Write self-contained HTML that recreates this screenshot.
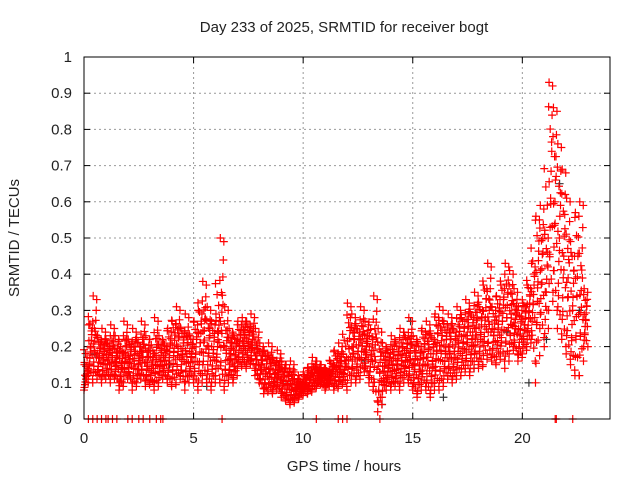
<!DOCTYPE html>
<html><head><meta charset="utf-8"><style>
body{margin:0;background:#fff}
svg text{font-family:"Liberation Sans",sans-serif;font-size:15px;fill:#222}
</style></head><body>
<svg id="chart" width="640" height="480" viewBox="0 0 640 480" xmlns="http://www.w3.org/2000/svg">
<rect width="640" height="480" fill="#fff"/>
<text x="344" y="32" text-anchor="middle">Day 233 of 2025, SRMTID for receiver bogt</text>
<text x="344" y="471" text-anchor="middle">GPS time / hours</text>
<text transform="translate(19,238) rotate(-90)" text-anchor="middle">SRMTID / TECUs</text>
<g id="grid"></g>
<g id="axes"></g>
<g id="marks"></g>
<rect x="84" y="57" width="526" height="362" fill="none" stroke="#000" stroke-width="1"/>
</svg>
<script>
const xTicks=[0,5,10,15,20];
const yTicks=[0,0.1,0.2,0.3,0.4,0.5,0.6,0.7,0.8,0.9,1];
const yTickLabels=["0","0.1","0.2","0.3","0.4","0.5","0.6","0.7","0.8","0.9","1"];
const timeStep=0.2;
const hiVals=[.14,.25,.33,.22,.24,.20,
.25,.22,.18,.26,.21,
.24,.20,.26,.22,.18,
.27,.22,.20,.24,.26,
.30,.24,.28,.22,.26,
.29,.37,.30,.26,.28,
.49,.30,.24,.22,.26,
.27,.26,.28,.24,.20,
.18,.20,.16,.18,.15,
.14,.15,.12,.10,.12,
.13,.16,.15,.14,.13,
.15,.18,.20,.17,.31,
.28,.24,.30,.26,.22,
.33,.24,.20,.18,.22,
.20,.24,.22,.27,.22,
.20,.24,.26,.22,.28,
.30,.26,.28,.24,.30,
.27,.32,.28,.34,.30,
.36,.42,.30,.33,.36,
.42,.40,.35,.30,.31,
.36,.42,.55,.58,.50,
.92,.85,.75,.68,.60,
.45,.56,.59,.35];
const loVals=[.08,.12,.10,.12,.10,.12,
.10,.12,.08,.10,.12,
.08,.10,.12,.09,.10,
.08,.10,.12,.10,.09,
.10,.12,.08,.12,.10,
.08,.12,.10,.08,.12,
.10,.08,.12,.10,.14,
.15,.14,.16,.12,.10,
.07,.08,.07,.09,.06,
.05,.04,.05,.06,.07,
.07,.08,.09,.10,.08,
.10,.08,.09,.10,.08,
.12,.10,.12,.14,.10,
.08,.02,.06,.10,.08,
.10,.08,.12,.10,.08,
.06,.10,.08,.06,.10,
.08,.10,.12,.10,.12,
.12,.14,.12,.16,.14,
.15,.18,.16,.15,.18,
.14,.18,.20,.16,.18,
.20,.22,.10,.25,.20,
.30,.35,.25,.22,.18,
.15,.12,.12,.20];
const blackTimes=[0.5,2.1,3.9,5.6,7.3,8.7,9.6,11.2,12.8,13.6,14.9,16.4,17.8,19.3,20.3,21.1,21.7,22.6];
const blackVals=[.18,.12,.15,.09,.20,.10,.06,.12,.16,.04,.27,.06,.14,.24,.10,.22,.65,.30];
const zeroTimes=[0.2,0.4,0.6,0.8,1.0,1.1,1.3,1.5,2.0,2.2,2.5,2.7,3.0,3.3,3.5,3.6,6.3,10.6,11.6,11.8,12.0,13.5,21.5,21.55,22.3];
const fracs=[0,0.12,0.25,0.37,0.5,0.62,0.75,0.87,1];

const X0=84,X1=610,Y0=419,Y1=57,XMAX=24;
const xs=t=>X0+(t/XMAX)*(X1-X0);
const ys=v=>Y0-v*(Y0-Y1);
const NS="http://www.w3.org/2000/svg";
const grid=document.getElementById('grid'),axes=document.getElementById('axes'),marks=document.getElementById('marks');
function mk(tag,attrs,parent){const e=document.createElementNS(NS,tag);for(const k in attrs)e.setAttribute(k,attrs[k]);parent.appendChild(e);return e;}
xTicks.forEach(t=>{
  const x=xs(t);
  if(t>0){const g=mk('line',{x1:x,y1:Y1,x2:x,y2:Y0,stroke:'#999','stroke-dasharray':'2,3'},grid);
  
  }
  mk('line',{x1:x,y1:Y0,x2:x,y2:Y0-6,stroke:'#000'},axes);
  mk('line',{x1:x,y1:Y1,x2:x,y2:Y1+6,stroke:'#000'},axes);
  const l=mk('text',{x:x,y:Y0+24,'text-anchor':'middle'},axes);l.textContent=t;
  
  
});
yTicks.forEach((v,i)=>{
  const y=ys(v);
  if(v>0&&v<1){const g=mk('line',{x1:X0,y1:y,x2:X1,y2:y,stroke:'#999','stroke-dasharray':'2,3'},grid);
  
  }
  mk('line',{x1:X0,y1:y,x2:X0+6,y2:y,stroke:'#000'},axes);
  mk('line',{x1:X1,y1:y,x2:X1-6,y2:y,stroke:'#000'},axes);
  const l=mk('text',{x:X0-12,y:y+5,'text-anchor':'end'},axes);l.textContent=yTickLabels[i];
  
  
});
function plus(t,v,col,name){
  const x=xs(t),y=ys(v);
  const p=mk('path',{d:`M${x-4} ${y}h8M${x} ${y-4}v8`,stroke:col,'stroke-width':1.2,fill:'none'},marks);
  
  
}
blackTimes.forEach((t,i)=>plus(t,blackVals[i],'#333','black-point'));
hiVals.forEach((h,i)=>{
  const t=i*timeStep,lo=loVals[i];
  const nh=i+1<hiVals.length?hiVals[i+1]:h, nl=i+1<loVals.length?loVals[i+1]:lo;
  fracs.forEach((f,k)=>{
    plus(t+f*0.18,lo+(h-lo)*f,'#f00','red-point');
    plus(t+(1-f)*0.19,(lo+nl)/2+((h+nh)/2-(lo+nl)/2)*((k*0.37)%1),'#f00','red-point');
  });
  plus(t+0.02,h+0.01,'#f00','red-point');
});
zeroTimes.forEach(t=>plus(t,0,'#f00','zero-point'));
</script>
</body></html>
